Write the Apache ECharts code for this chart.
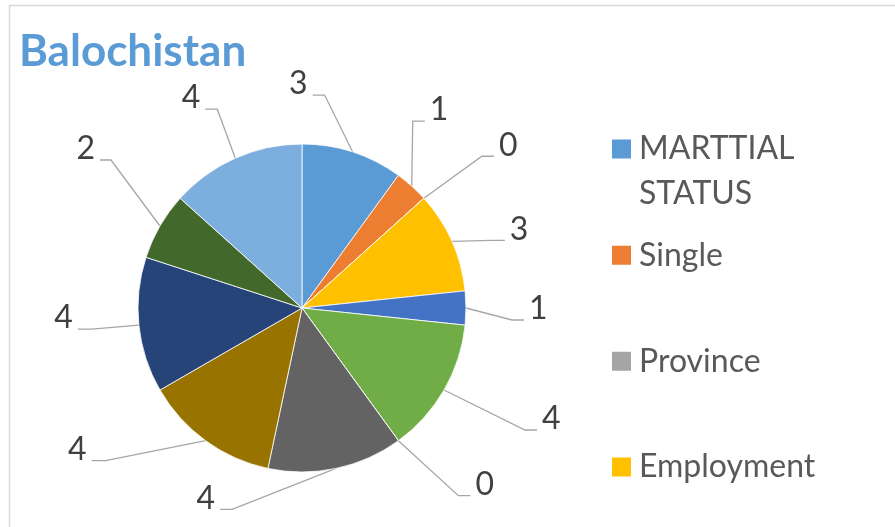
<!DOCTYPE html>
<html>
<head>
<meta charset="utf-8">
<script src="https://cdn.jsdelivr.net/npm/echarts@6/dist/echarts.min.js"></script>
<style>
  html, body { margin: 0; padding: 0; background: #fff; }
  #chart { width: 895px; height: 527px; }
</style>
</head>
<body>
<div id="chart"></div>
<script>
// data
const categories = ['MARTTIAL STATUS', 'Single', 'Province', 'Employment',
  'Category 5', 'Category 6', 'Category 7', 'Category 8',
  'Category 9', 'Category 10', 'Category 11', 'Category 12'];
const values = [3, 1, 0, 3, 1, 4, 0, 4, 4, 4, 2, 4];
const legendNames = ['MARTTIAL STATUS', 'Single', 'Province', 'Employment'];

// excel office palette
const colors = ['#5B9BD5', '#ED7D31', '#A5A5A5', '#FFC000', '#4472C4', '#70AD47',
  '#255E91', '#636363', '#997300', '#264478', '#43682B', '#7CAFDD'];

// leader line: bend offset from slice edge [dx, dy] and horizontal tail length
const leaders = [
  [-28, -57, -12], [1, -65, 12], [58, -42, 12], [40, -1, 13],
  [46, 12, 12], [81, 40, 12], [60, 55, 12], [-104, 41, -12],
  [-100, 20, -14], [-47, 4, -14], [-49, -66, -11], [-18, -49, -12],
];

const font = 'Lato';
const legendTops = [81.5, 232.8, 338.8, 444.5];

const myChart = echarts.init(document.getElementById('chart'));

// one legend per entry so the spacing can follow the excel layout;
// the two-line entry gets an empty first line so its marker sits on "MARTTIAL"
const legends = legendNames.map((name, i) => ({
  data: [name],
  orient: 'vertical',
  left: 610,
  top: legendTops[i],
  padding: 0,
  icon: 'rect',
  itemWidth: 21,
  itemHeight: 21,
  selectedMode: false,
  formatter: (n) => (n.indexOf(' ') > 0 ? ' \n' + n.replace(' ', '\n') : n),
  textStyle: {
    fontFamily: font,
    fontSize: 32,
    color: '#595959',
    lineHeight: 45,
    padding: [0, 0, 0, 2],
  },
}));

const option = {
  backgroundColor: '#fff',
  animation: false,
  title: {
    text: 'Balochistan',
    left: 14,
    top: 25,
    textStyle: {
      fontFamily: font,
      fontWeight: 'bold',
      fontSize: 44,
      color: '#5B9BD5',
    },
  },
  legend: legends,
  graphic: [{
    type: 'rect',
    shape: { x: 9.5, y: 5.5, width: 1000, height: 1000 },
    style: { fill: 'none', stroke: '#D9D9D9', lineWidth: 1.5 },
    silent: true,
  }],
  series: [{
    type: 'pie',
    center: [302, 308],
    radius: 164,
    startAngle: 90,
    clockwise: true,
    avoidLabelOverlap: false,
    itemStyle: { borderColor: '#fff', borderWidth: 0.8 },
    emphasis: { disabled: true },
    label: {
      show: true,
      formatter: '{c}',
      fontFamily: font,
      fontSize: 32,
      color: '#404040',
    },
    labelLine: {
      show: true,
      length: 20,
      length2: 10,
      lineStyle: { color: '#A6A6A6', width: 1.3 },
    },
    labelLayout(params) {
      const pts = params.labelLinePoints;
      if (!pts) return {};
      const l = leaders[params.dataIndex];
      const p0 = pts[0];
      const p1 = [p0[0] + l[0], p0[1] + l[1]];
      const p2 = [p1[0] + l[2], p1[1]];
      const right = l[2] > 0;
      return {
        x: p2[0] + (right ? 5 : -5),
        y: p2[1] - 11,
        align: right ? 'left' : 'right',
        verticalAlign: 'middle',
        labelLinePoints: [p0, p1, p2],
      };
    },
    data: categories.map((name, i) => ({
      name,
      value: values[i],
      itemStyle: { color: colors[i] },
    })),
  }],
};

myChart.setOption(option);
</script>
</body>
</html>
